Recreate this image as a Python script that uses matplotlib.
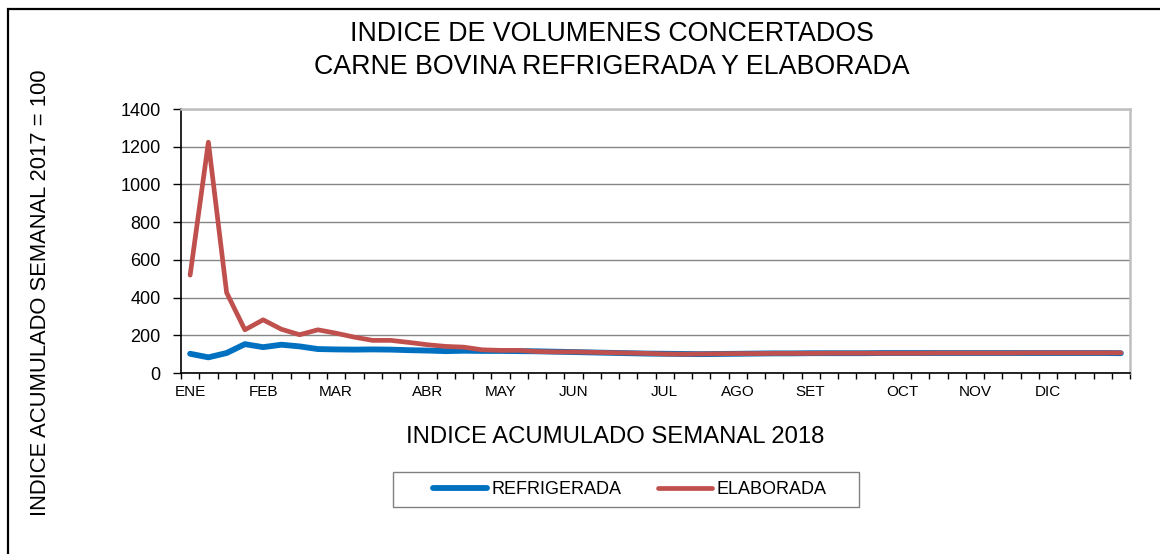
import numpy as np
import matplotlib
matplotlib.use('Agg')
import matplotlib.pyplot as plt
from matplotlib.patches import Rectangle

plt.rcParams['font.family'] = ['Liberation Sans', 'DejaVu Sans']

# semanas 2018 (52) - solo se rotula el inicio de cada mes
meses = {0: 'ENE', 4: 'FEB', 8: 'MAR', 13: 'ABR', 17: 'MAY', 21: 'JUN',
         26: 'JUL', 30: 'AGO', 34: 'SET', 39: 'OCT', 43: 'NOV', 47: 'DIC'}
semanas = np.arange(52)

refrigerada = [102, 83, 106, 153, 137, 150, 141, 127, 125, 124,
               125, 124, 121, 119, 116, 118, 117, 117, 116, 115,
               113, 111, 109, 107, 105, 103, 102, 101, 100, 101,
               102, 103, 104, 104, 105, 105, 105, 105, 106, 106,
               106, 106, 106, 106, 106, 106, 106, 106, 106, 106,
               106, 105]
elaborada = [519, 1224, 426, 229, 282, 232, 203, 229, 211, 190,
             173, 173, 162, 150, 141, 137, 123, 120, 120, 114,
             112, 112, 110, 108, 106, 104, 101, 100, 101, 102,
             103, 103, 104, 104, 104, 105, 105, 105, 105, 105,
             105, 106, 106, 106, 106, 106, 107, 107, 107, 107,
             107, 107]

W, H = 1160, 554
fig = plt.figure(figsize=(W / 100, H / 100), dpi=100)
ax = fig.add_axes([181 / W, 1 - 373 / H, (1130 - 181) / W, (373 - 109) / H])

ax.plot(semanas, refrigerada, color='#0070C0', linewidth=4.2,
        solid_capstyle='round', solid_joinstyle='round', label='REFRIGERADA')
ax.plot(semanas, elaborada, color='#C0504D', linewidth=3.4,
        solid_capstyle='round', solid_joinstyle='round', label='ELABORADA')

ax.set_xlim(-0.5, 51.5)
ax.set_ylim(0, 1400)
ax.set_yticks(np.arange(0, 1401, 200))
ax.tick_params(axis='y', labelsize=13, length=5.5, width=1, direction='out', pad=9)
ax.yaxis.grid(True, color='#868686', linewidth=1)
ax.set_axisbelow(True)

# marcas entre semanas, etiquetas en el centro
ax.set_xticks(np.arange(-0.5, 52, 1))
ax.set_xticklabels([])
ax.tick_params(axis='x', which='major', length=4, width=1, direction='out')
ax.set_xticks(list(meses.keys()), minor=True)
ax.set_xticklabels(list(meses.values()), minor=True, fontsize=11)
ax.tick_params(axis='x', which='minor', length=0, pad=9)

for s in ['left', 'bottom']:
    ax.spines[s].set_color('black')
    ax.spines[s].set_linewidth(1.2)
for s in ['top', 'right']:
    ax.spines[s].set_color('#BFBFBF')
    ax.spines[s].set_linewidth(1.8)

fig.text(612 / W, 1 - 34 / H, 'INDICE DE VOLUMENES CONCERTADOS',
         ha='center', va='center', fontsize=19.3)
fig.text(612 / W, 1 - 67 / H, 'CARNE BOVINA REFRIGERADA Y ELABORADA',
         ha='center', va='center', fontsize=19.3)
fig.text(615 / W, 1 - 437 / H, 'INDICE ACUMULADO SEMANAL 2018',
         ha='center', va='center', fontsize=17.2)
fig.text(41 / W, 1 - 293 / H, 'INDICE ACUMULADO SEMANAL 2017 = 100',
         ha='center', va='center', rotation=90, fontsize=15.8)

leg = fig.legend(loc='center', bbox_to_anchor=(630 / W, 1 - 489.5 / H), ncol=2,
                 frameon=False, fontsize=13, handlelength=3.0, handletextpad=0.25,
                 columnspacing=2.0)

# recuadro de la leyenda
fig.add_artist(Rectangle((393 / W, 1 - 507 / H), (859 - 393) / W, 35 / H,
                         transform=fig.transFigure, fill=False,
                         edgecolor='#808080', linewidth=1))
# marco exterior
fig.add_artist(Rectangle((8 / W, -0.05), 1.1, (1 - 9 / H) + 0.05,
                         transform=fig.transFigure, fill=False,
                         edgecolor='black', linewidth=1.6))

fig.savefig('out.png', dpi=100)
